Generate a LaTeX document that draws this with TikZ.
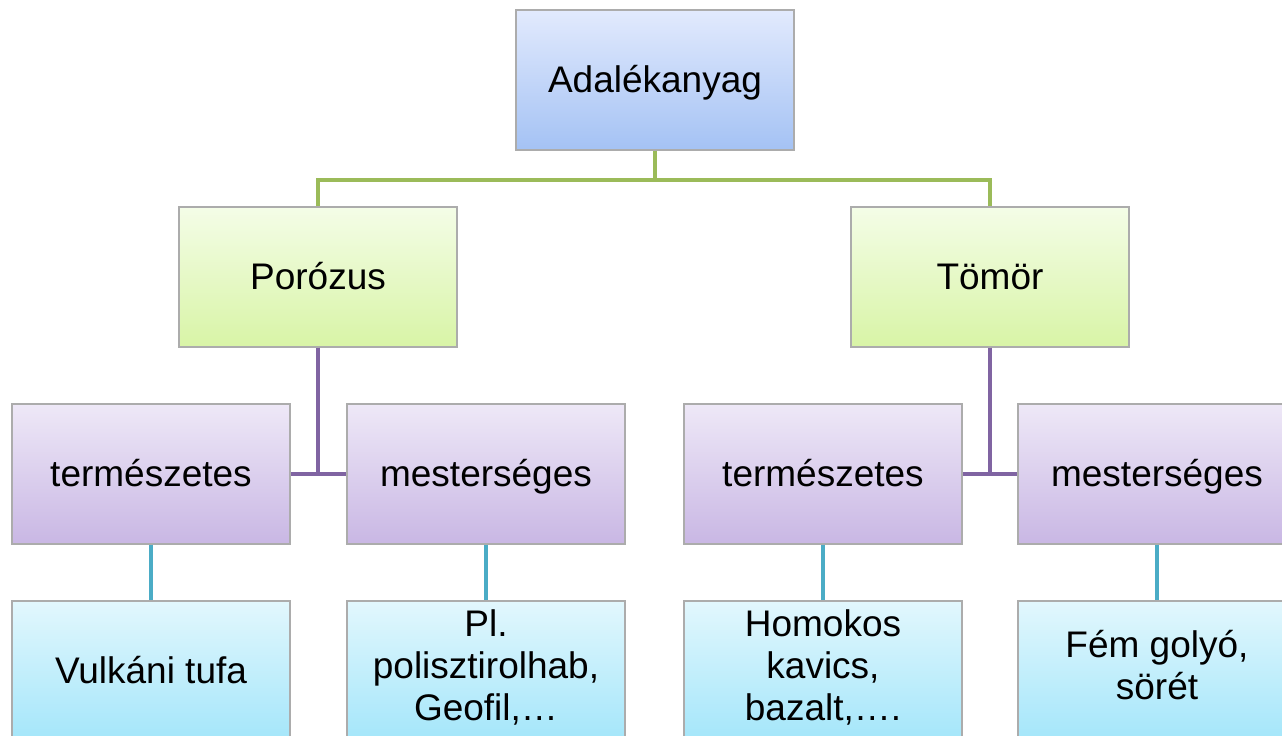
\documentclass[tikz,border=0pt]{standalone}
\usepackage{fontspec}
\setmainfont{Liberation Sans}
\usepackage{tikz}
\usetikzlibrary{shadings}

\definecolor{lnGreen}{HTML}{9BBB59}
\definecolor{lnPurple}{HTML}{8064A2}
\definecolor{lnCyan}{HTML}{4BACC6}

\tikzset{
  box/.style={draw=gray!65, line width=0.6pt, minimum width=139pt, minimum height=70pt,
    inner sep=2pt, align=center, font=\fontsize{18.5}{21}\selectfont,
    execute at begin node=\rule{0pt}{18.7pt}, execute at end node=\strut},
  bluebox/.style={box, top color={rgb,255:red,226;green,234;blue,253}, bottom color={rgb,255:red,164;green,194;blue,244}},
  greenbox/.style={box, top color={rgb,255:red,244;green,253;blue,231}, bottom color={rgb,255:red,216;green,244;blue,166}},
  violetbox/.style={box, top color={rgb,255:red,238;green,232;blue,247}, bottom color={rgb,255:red,201;green,183;blue,228}},
  cyanbox/.style={box, top color={rgb,255:red,226;green,247;blue,253}, bottom color={rgb,255:red,164;green,230;blue,250}},
  lvlone/.style={lnGreen, line width=2pt},
  lvltwo/.style={lnPurple, line width=2pt},
  lvlthree/.style={lnCyan, line width=2pt}
}

\begin{document}
\begin{tikzpicture}[x=0.5pt, y=-0.5pt]
  \clip (0,0) rectangle (1282,735);
  \fill[white] (0,0) rectangle (1282,735);

  \draw (655,80) node[bluebox] (adal) {Adalékanyag};

  \draw (318,277) node[greenbox] (poro) {Porózus};
  \draw (990,277) node[greenbox] (tomor) {Tömör};

  \draw (151,474) node[violetbox] (term1) {természetes};
  \draw (486,474) node[violetbox] (mest1) {mesterséges};
  \draw (823,474) node[violetbox] (term2) {természetes};
  \draw (1157,474) node[violetbox] (mest2) {mesterséges};

  \draw (151,671) node[cyanbox] (vulk) {Vulkáni tufa};
  \draw (486,671) node[cyanbox] (poli) {Pl.\\polisztirolhab,\\Geofil,…};
  \draw (823,671) node[cyanbox] (homok) {Homokos\\kavics,\\bazalt,….};
  \draw (1157,671) node[cyanbox] (fem) {Fém golyó,\\sörét};

  \draw[lvlone] (adal.south) -- ++(0,29) coordinate (split) -| (poro.north);
  \draw[lvlone] (split) -| (tomor.north);

  \draw[lvltwo] (poro.south) |- (term1.east);
  \draw[lvltwo] (poro.south) |- (mest1.west);
  \draw[lvltwo] (tomor.south) |- (term2.east);
  \draw[lvltwo] (tomor.south) |- (mest2.west);

  \path[lvlthree] (term1) edge (vulk);
  \path[lvlthree] (mest1) edge (poli);
  \path[lvlthree] (term2) edge (homok);
  \path[lvlthree] (mest2) edge (fem);

\end{tikzpicture}
\end{document}
